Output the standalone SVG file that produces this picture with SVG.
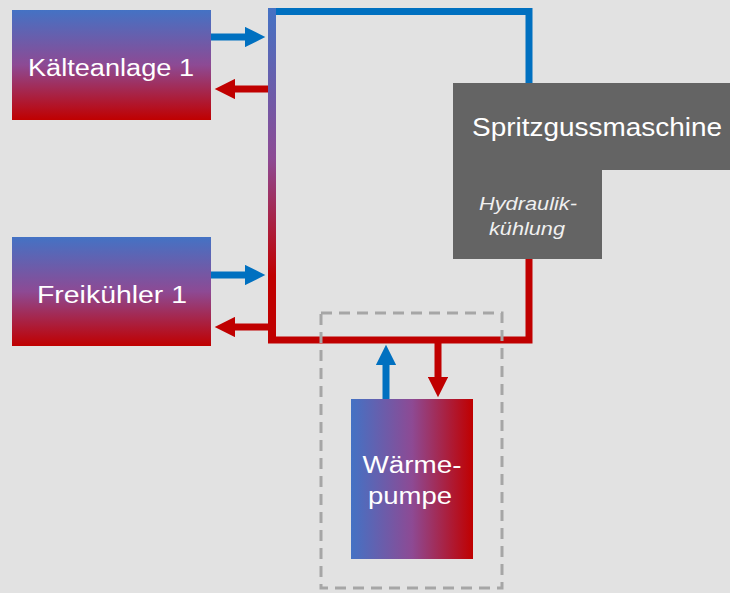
<svg xmlns="http://www.w3.org/2000/svg" width="730" height="593" viewBox="0 0 730 593">
<defs>
<linearGradient id="gv" x1="0" y1="0" x2="0" y2="1">
<stop offset="0" stop-color="#4472c4"/>
<stop offset="0.5" stop-color="#8d4a94"/>
<stop offset="1" stop-color="#c00000"/>
</linearGradient>
<linearGradient id="gh" x1="0" y1="0" x2="1" y2="0">
<stop offset="0" stop-color="#4472c4"/>
<stop offset="0.5" stop-color="#8d4a94"/>
<stop offset="1" stop-color="#c00000"/>
</linearGradient>
<linearGradient id="gpipe" gradientUnits="userSpaceOnUse" x1="0" y1="8" x2="0" y2="343">
<stop offset="0" stop-color="#4472c4"/>
<stop offset="0.45" stop-color="#8d4a94"/>
<stop offset="0.8" stop-color="#c00000"/>
<stop offset="1" stop-color="#c00000"/>
</linearGradient>
<marker id="hb" viewBox="0 0 10 10" refX="0" refY="5" markerWidth="3.3" markerHeight="2.9" orient="auto">
<path d="M0,0 L10,5 L0,10 Z" fill="#0070c0"/>
</marker>
<marker id="hr" viewBox="0 0 10 10" refX="0" refY="5" markerWidth="3.3" markerHeight="2.9" orient="auto">
<path d="M0,0 L10,5 L0,10 Z" fill="#c00000"/>
</marker>
</defs>
<style>
.lbl{font-family:"Liberation Sans",Arial,sans-serif;fill:#ffffff;text-anchor:middle}
.it{font-style:italic;fill:#f0f0f0}
.pb{fill:none;stroke:#0070c0;stroke-width:7}
.pr{fill:none;stroke:#c00000;stroke-width:7}
</style>
<rect width="730" height="593" fill="#e2e2e2"/>

<g id="connectors">
<line x1="272" y1="8" x2="272" y2="343.5" stroke="url(#gpipe)" stroke-width="8"/>
<polyline class="pb" points="276,11.5 529,11.5 529,84"/>
<polyline class="pr" points="276,340 529,340 529,258"/>
<line class="pb" x1="211" y1="37" x2="245" y2="37" marker-end="url(#hb)"/>
<line class="pr" x1="268" y1="89" x2="235" y2="89" marker-end="url(#hr)"/>
<line class="pb" x1="211" y1="275" x2="245" y2="275" marker-end="url(#hb)"/>
<line class="pr" x1="268" y1="327" x2="235" y2="327" marker-end="url(#hr)"/>
<line class="pb" x1="386" y1="399" x2="386" y2="365" marker-end="url(#hb)"/>
<line class="pr" x1="438" y1="343" x2="438" y2="377" marker-end="url(#hr)"/>
</g>

<g id="frame">
<rect x="321" y="313" width="181" height="275" fill="none" stroke="#a6a6a6" stroke-width="3" stroke-dasharray="11,7"/>
</g>

<g id="kaelteanlage">
<rect x="12" y="10" width="199" height="110" fill="url(#gv)"/>
<text class="lbl" x="111" y="76" font-size="23" textLength="166" lengthAdjust="spacingAndGlyphs">Kälteanlage 1</text>
</g>

<g id="freikuehler">
<rect x="12" y="237" width="199" height="109" fill="url(#gv)"/>
<text class="lbl" x="112" y="303" font-size="23" textLength="150" lengthAdjust="spacingAndGlyphs">Freikühler 1</text>
</g>

<g id="spritzguss">
<path d="M453,83 H730 V170 H602 V259 H453 Z" fill="#646464"/>
<text class="lbl" x="597" y="136" font-size="26" textLength="250" lengthAdjust="spacingAndGlyphs">Spritzgussmaschine</text>
<text class="lbl it" x="528" y="210" font-size="18" textLength="98" lengthAdjust="spacingAndGlyphs">Hydraulik-</text>
<text class="lbl it" x="527" y="235" font-size="18" textLength="76" lengthAdjust="spacingAndGlyphs">kühlung</text>
</g>

<g id="waermepumpe">
<rect x="351" y="399" width="122" height="160" fill="url(#gh)"/>
<text class="lbl" x="412" y="473" font-size="23" textLength="99" lengthAdjust="spacingAndGlyphs">Wärme-</text>
<text class="lbl" x="410" y="504" font-size="23" textLength="84" lengthAdjust="spacingAndGlyphs">pumpe</text>
</g>
</svg>
